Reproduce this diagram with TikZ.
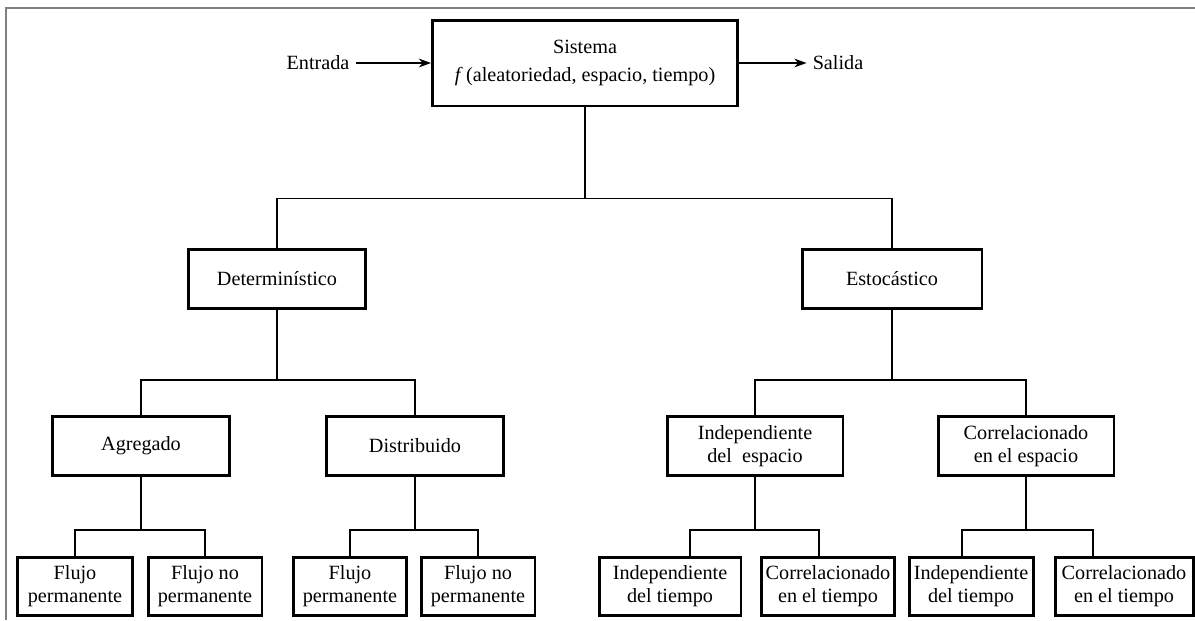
\documentclass[tikz,border=0pt]{standalone}
\usepackage{fontspec}
\setmainfont{Liberation Serif}
\usepackage{tikz}
\usetikzlibrary{arrows.meta,calc}

\begin{document}
\begin{tikzpicture}[x=0.02cm,y=-0.02cm,
          every node/.style={font=\fontsize{11.5}{13}\selectfont},
          caja/.style={draw,line width=1.7pt,inner sep=0pt,align=center},
          linea/.style={draw,line width=0.6pt},
          ar/.style={-{Stealth[length=7pt,width=5pt]},line width=0.7pt}]
        \useasboundingbox (0,0) rectangle (1195,620);
        \draw[gray,line width=0.9pt] (6,620) -- (6,8) -- (1195,8);
        % sistema
        \node[caja, minimum width=6.1cm, minimum height=1.72cm] (sis) at (585,63)
        {Sistema\\[3pt] \textit{f}\,(aleatoriedad, espacio, tiempo)};
        \node (ent) at (318,63) {Entrada};
        \node (sal) at (838,63) {Salida};
        \draw[ar] (ent) -- (sis); \draw[ar] (sis) -- (sal);
        % segundo nivel
        \node[caja, minimum width=3.54cm, minimum height=1.18cm] (det) at (277,279) {Determinístico};
        \node[caja, minimum width=3.6cm,  minimum height=1.18cm] (est) at (892,279) {Estocástico};
        % tercer nivel
        \node[caja, minimum width=3.56cm, minimum height=1.18cm] (agr)  at (141,446) {Agregado};
        \node[caja, minimum width=3.54cm, minimum height=1.18cm] (dis)  at (415,446) {Distribuido};
        \node[caja, minimum width=3.52cm, minimum height=1.18cm] (iesp) at (755,446) {Independiente\\del\ \ espacio};
        \node[caja, minimum width=3.52cm, minimum height=1.18cm] (cesp) at (1026,446) {Correlacionado\\en el espacio};
        % cuarto nivel
        \node[caja, minimum width=2.32cm, minimum height=1.16cm] (fp1)  at (75,586)   {Flujo\\permanente};
        \node[caja, minimum width=2.28cm, minimum height=1.16cm] (fnp1) at (205,586)  {Flujo no\\permanente};
        \node[caja, minimum width=2.26cm, minimum height=1.16cm] (fp2)  at (350,586)  {Flujo\\permanente};
        \node[caja, minimum width=2.28cm, minimum height=1.16cm] (fnp2) at (478,586)  {Flujo no\\permanente};
        \node[caja, minimum width=2.84cm, minimum height=1.16cm] (it1)  at (670,586)  {Independiente\\del tiempo};
        \node[caja, minimum width=2.66cm, minimum height=1.16cm] (ct1)  at (828,586)  {Correlacionado\\en el tiempo};
        \node[caja, minimum width=2.48cm, minimum height=1.16cm] (it2)  at (971,586)  {Independiente\\del tiempo};
        \node[caja, minimum width=2.76cm, minimum height=1.16cm] (ct2)  at (1124,586) {Correlacionado\\en el tiempo};
        % conectores
        \draw[linea] (sis.south) -- ++(0,91) -| (det.north);
        \draw[linea] (sis.south) -- ++(0,91) -| (est.north);
        \draw[linea] (det.south) -- ++(0,70) -| (agr.north);
        \draw[linea] (det.south) -- ++(0,70) -| (dis.north);
        \draw[linea] (est.south) -- ++(0,70) -| (iesp.north);
        \draw[linea] (est.south) -- ++(0,70) -| (cesp.north);
        \draw[linea] (agr.south) -- ++(0,53) -| (fp1.north);
        \draw[linea] (agr.south) -- ++(0,53) -| (fnp1.north);
        \draw[linea] (dis.south) -- ++(0,53) -| (fp2.north);
        \draw[linea] (dis.south) -- ++(0,53) -| (fnp2.north);
        \draw[linea] (iesp.south) -- ++(0,53) -| ([shift={(20,0)}]it1.north);
        \draw[linea] (iesp.south) -- ++(0,53) -| ([shift={(-9,0)}]ct1.north);
        \draw[linea] (cesp.south) -- ++(0,53) -| ([shift={(-9,0)}]it2.north);
        \draw[linea] (cesp.south) -- ++(0,53) -| ([shift={(-31,0)}]ct2.north);
      \end{tikzpicture}
\end{document}
